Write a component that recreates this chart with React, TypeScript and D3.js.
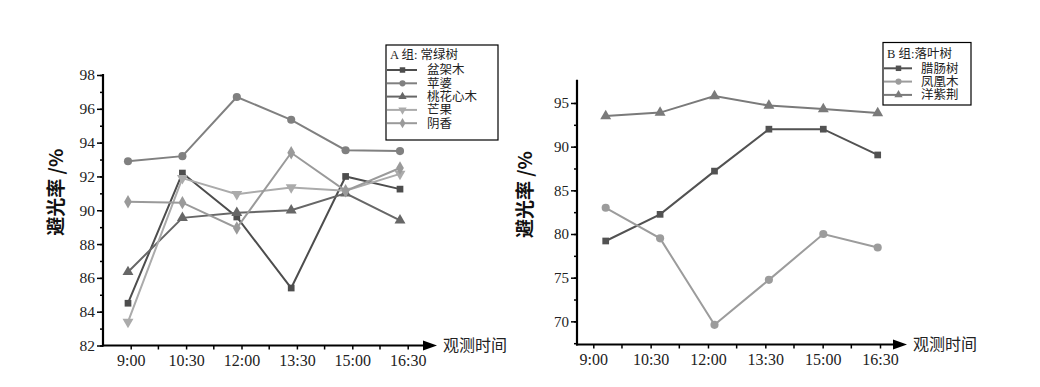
import * as d3 from "d3";
import React, { useEffect, useRef } from "react";

// observation times (x axis)
const times = ["9:00", "10:30", "12:00", "13:30", "15:00", "16:30"];

// group A: evergreen trees
const groupATitle = "A 组: 常绿树";
const groupANames = ["盆架木", "苹婆", "桃花心木", "芒果", "阴香"];
const penjiamu = [84.5, 92.2, 89.6, 85.4, 92.0, 91.25];
const pingpo = [92.9, 93.2, 96.7, 95.35, 93.55, 93.5];
const taohuaxinmu = [86.35, 89.55, 89.85, 90.0, 91.0, 89.4];
const mangguo = [83.4, 91.9, 90.95, 91.35, 91.15, 92.15];
const yinxiang = [90.5, 90.45, 88.95, 93.4, 91.15, 92.5];
const groupATicks = [82, 84, 86, 88, 90, 92, 94, 96, 98];

// group B: deciduous trees
const groupBTitle = "B 组:落叶树";
const groupBNames = ["腊肠树", "凤凰木", "洋紫荆"];
const lachangshu = [79.2, 82.25, 87.2, 92.0, 92.0, 89.05];
const fenghuangmu = [83.0, 79.5, 69.6, 74.75, 80.0, 78.45];
const yangzijing = [93.5, 93.9, 95.8, 94.7, 94.3, 93.85];
const groupBTicks = [70, 75, 80, 85, 90, 95];

const yTitle = "避光率 /%";
const xTitle = "观测时间";

const serif = "Liberation Serif, Noto Sans CJK SC, serif";
const hei = "Noto Sans CJK SC, sans-serif";

const symbols: any = {
  square: d3.symbolSquare,
  circle: d3.symbolCircle,
  triangle: d3.symbolTriangle,
  down: d3.symbolTriangle,
  diamond: d3.symbolDiamond,
};

const drawPanel = (svg: any, cfg: any) => {
  const g = svg.append("g");
  const y = d3.scaleLinear().domain(cfg.yDomain).range([cfg.bottom, cfg.top]);
  const xTick = d3.scalePoint().domain(times).range(cfg.tickRange);
  const xData = d3.scalePoint().domain(times).range(cfg.dataRange);

  // y axis
  const yAxis = g.append("g").attr("transform", `translate(${cfg.left},0)`);
  yAxis
    .call(d3.axisLeft(y).tickValues(cfg.minorTicks).tickSize(3).tickFormat(() => ""))
    .call((s: any) => s.select(".domain").remove());
  yAxis
    .append("g")
    .call(d3.axisLeft(y).tickValues(cfg.yTicks).tickSize(6).tickPadding(2).tickFormat(d3.format("d")))
    .call((s: any) => s.select(".domain").remove())
    .call((s: any) =>
      s.selectAll("text").style("font-family", serif).style("font-size", cfg.yFont + "px").attr("fill", "#222")
    );
  yAxis.selectAll("line").attr("stroke", "#000").attr("stroke-width", 1.5);
  g.append("line")
    .attr("x1", cfg.left).attr("x2", cfg.left)
    .attr("y1", cfg.top - 1).attr("y2", cfg.bottom + 1)
    .attr("stroke", "#000").attr("stroke-width", 2.2);

  // x axis with arrow
  const xa = g.append("g").attr("transform", `translate(0,${cfg.bottom})`);
  xa.call(d3.axisBottom(xTick).tickSize(4).tickPadding(5))
    .call((s: any) => s.select(".domain").remove())
    .call((s: any) =>
      s.selectAll("text").style("font-family", serif).style("font-size", "16px").attr("fill", "#222")
    );
  const step = xTick.step();
  const minors = times.slice(0, -1).map((t) => (xTick(t) as number) + step / 2);
  minors.push((xTick(times[0]) as number) - step / 2);
  xa.selectAll(".minor")
    .data(minors.filter((m) => m > cfg.left + 2))
    .enter()
    .append("line")
    .attr("x1", (d: number) => d).attr("x2", (d: number) => d)
    .attr("y1", 0).attr("y2", 4);
  xa.selectAll("line").attr("stroke", "#000").attr("stroke-width", 1.5);
  g.append("line")
    .attr("x1", cfg.left - 1).attr("x2", cfg.arrow - 10)
    .attr("y1", cfg.bottom).attr("y2", cfg.bottom)
    .attr("stroke", "#000").attr("stroke-width", 2.2);
  g.append("path")
    .attr("d", `M${cfg.arrow},${cfg.bottom} L${cfg.arrow - 14},${cfg.bottom - 5} L${cfg.arrow - 14},${cfg.bottom + 5} Z`)
    .attr("fill", "#000");
  g.append("text")
    .attr("x", cfg.arrow + 6).attr("y", cfg.bottom)
    .attr("dy", "0.35em")
    .style("font-family", hei).style("font-size", "16px").attr("fill", "#222")
    .text(xTitle);

  // y title
  g.append("text")
    .attr("transform", `translate(${cfg.titleX},${(cfg.top + cfg.bottom) / 2 - 18}) rotate(-90)`)
    .attr("text-anchor", "middle")
    .attr("dy", "0.35em")
    .style("font-family", hei).style("font-size", "19px").style("font-weight", "bold").attr("fill", "#111")
    .text(yTitle);

  // series
  const line = d3
    .line<number>()
    .x((_d, i) => xData(times[i]) as number)
    .y((d) => y(d));
  cfg.series.forEach((s: any) => {
    g.append("path")
      .datum(s.values)
      .attr("fill", "none")
      .attr("stroke", s.color)
      .attr("stroke-width", 2)
      .attr("d", line);
    g.selectAll(null)
      .data(s.values)
      .enter()
      .append("path")
      .attr("d", d3.symbol().type(symbols[s.shape]).size(s.shape === "square" ? 45 : 52))
      .attr("transform", (d: number, i: number) =>
        `translate(${xData(times[i])},${y(d)})${s.shape === "down" ? " rotate(180)" : ""}`
      )
      .attr("fill", s.color);
  });

  // legend
  const lg = cfg.legend;
  const leg = g.append("g");
  leg.append("rect")
    .attr("x", lg.x).attr("y", lg.y).attr("width", lg.w).attr("height", lg.h)
    .attr("fill", "#fff").attr("stroke", "#000").attr("stroke-width", 1.2);
  leg.append("text")
    .attr("x", lg.x + 4).attr("y", lg.titleY)
    .attr("dy", "0.35em")
    .style("font-family", serif).style("font-size", "12.5px").attr("fill", "#222")
    .text(lg.title);
  cfg.series.forEach((s: any, i: number) => {
    const ry = lg.rowY + i * lg.rowStep;
    leg.append("line")
      .attr("x1", lg.x + 1).attr("x2", lg.x + lg.lineW)
      .attr("y1", ry).attr("y2", ry)
      .attr("stroke", s.color).attr("stroke-width", 2);
    leg.append("path")
      .attr("d", d3.symbol().type(symbols[s.shape]).size(30))
      .attr("transform", `translate(${lg.x + lg.lineW / 2 + 1},${ry})${s.shape === "down" ? " rotate(180)" : ""}`)
      .attr("fill", s.color);
    leg.append("text")
      .attr("x", lg.x + lg.textX).attr("y", ry)
      .attr("dy", "0.35em")
      .style("font-family", serif).style("font-size", "12.5px").attr("fill", "#222")
      .text(s.name);
  });
};

const range = (a: number, b: number, s: number) => d3.range(a, b + s / 2, s);

const App = () => {
  const ref = useRef<SVGSVGElement>(null);

  useEffect(() => {
    document.body.style.margin = "0";
    const svg = d3.select(ref.current);
    svg.selectAll("*").remove();
    svg.append("rect").attr("width", 1040).attr("height", 387).attr("fill", "#fff");

    drawPanel(svg, {
      left: 103,
      top: 75,
      bottom: 345.5,
      yDomain: [82, 98],
      yTicks: groupATicks,
      minorTicks: range(82, 98, 1),
      yFont: 15.5,
      tickRange: [130.7, 407.7],
      dataRange: [128, 400],
      arrow: 437,
      titleX: 56,
      series: [
        { name: groupANames[0], values: penjiamu, color: "#4d4d4d", shape: "square" },
        { name: groupANames[1], values: pingpo, color: "#808080", shape: "circle" },
        { name: groupANames[2], values: taohuaxinmu, color: "#676767", shape: "triangle" },
        { name: groupANames[3], values: mangguo, color: "#ababab", shape: "down" },
        { name: groupANames[4], values: yinxiang, color: "#9a9a9a", shape: "diamond" },
      ],
      legend: {
        title: groupATitle, x: 386, y: 45, w: 112, h: 95,
        titleY: 55, rowY: 70, rowStep: 13.3, lineW: 31, textX: 41,
      },
    });

    drawPanel(svg, {
      left: 577,
      top: 80.7,
      bottom: 344.5,
      yDomain: [67.35, 97.55],
      yTicks: groupBTicks,
      minorTicks: range(67.5, 95, 2.5),
      yFont: 15,
      tickRange: [593.3, 880],
      dataRange: [605.7, 877.7],
      arrow: 907,
      titleX: 525,
      series: [
        { name: groupBNames[0], values: lachangshu, color: "#525252", shape: "square" },
        { name: groupBNames[1], values: fenghuangmu, color: "#9c9c9c", shape: "circle" },
        { name: groupBNames[2], values: yangzijing, color: "#7a7a7a", shape: "triangle" },
      ],
      legend: {
        title: groupBTitle, x: 883, y: 42.5, w: 88, h: 62.5,
        titleY: 54, rowY: 68.3, rowStep: 13.3, lineW: 29, textX: 38,
      },
    });
  }, []);

  return (
    <div>
      <svg ref={ref} width={1040} height={387} style={{ display: "block" }} />
    </div>
  );
};

export default App;
